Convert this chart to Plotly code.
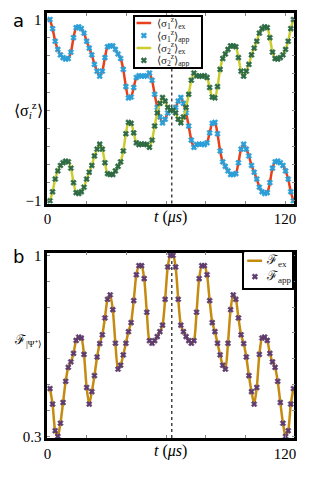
import plotly.graph_objects as go

# sample times (µs) of the plotted points
t = [1.3, 2.62, 3.94, 5.27, 6.59, 7.91, 9.23, 10.55, 11.88, 13.2,
     14.52, 15.84, 17.16, 18.49, 19.81, 21.13, 22.45, 23.77, 25.1, 26.42,
     27.74, 29.06, 30.38, 31.71, 33.03, 34.35, 35.67, 36.99, 38.32, 39.64,
     40.96, 42.28, 43.6, 44.93, 46.25, 47.57, 48.89, 50.21, 51.54, 52.86,
     54.18, 55.5, 56.82, 58.15, 59.47, 60.79, 62.11, 63.43, 64.76, 66.08,
     67.4, 68.72, 70.04, 71.37, 72.69, 74.01, 75.33, 76.65, 77.98, 79.3,
     80.62, 81.94, 83.26, 84.59, 85.91, 87.23, 88.55, 89.87, 91.2, 92.52,
     93.84, 95.16, 96.48, 97.81, 99.13, 100.45, 101.77, 103.09, 104.42, 105.74,
     107.06, 108.38, 109.7, 111.03, 112.35, 113.67, 114.99, 116.31, 117.64, 118.96,
     120.28, 121.6, 122.92, 124.25]

sigma1 = [1.0, 0.90, 0.76, 0.67, 0.61, 0.58, 0.563, 0.57, 0.64, 0.80,
          0.91, 0.92, 0.90, 0.85, 0.76, 0.685, 0.61, 0.505, 0.43, 0.375,
          0.43, 0.58, 0.70, 0.71, 0.71, 0.67, 0.62, 0.57, 0.45, 0.26,
          0.135, 0.145, 0.25, 0.36, 0.38, 0.375, 0.375, 0.38, 0.41, 0.33,
          0.175, 0.03, -0.075, -0.14, -0.10, -0.03, 0.0,
          0.0, 0.03, 0.10, 0.14, 0.075, -0.03, -0.175, -0.33, -0.41, -0.38,
          -0.375, -0.375, -0.38, -0.36, -0.25, -0.145, -0.135, -0.26, -0.45, -0.57,
          -0.62, -0.67, -0.71, -0.71, -0.70, -0.58, -0.43, -0.375, -0.43, -0.505,
          -0.61, -0.685, -0.76, -0.85, -0.90, -0.92, -0.91, -0.80, -0.64, -0.57,
          -0.563, -0.58, -0.61, -0.67, -0.76, -0.90, -1.0]

sigma2 = [-1.0, -0.90, -0.76, -0.67, -0.61, -0.58, -0.563, -0.57, -0.64, -0.80,
          -0.91, -0.92, -0.90, -0.85, -0.76, -0.685, -0.61, -0.505, -0.43, -0.375,
          -0.43, -0.58, -0.70, -0.71, -0.71, -0.67, -0.62, -0.57, -0.45, -0.26,
          -0.135, -0.145, -0.25, -0.36, -0.38, -0.375, -0.375, -0.38, -0.41, -0.33,
          -0.175, -0.03, 0.075, 0.14, 0.10, 0.03, 0.0,
          0.0, -0.03, -0.10, -0.14, -0.075, 0.03, 0.175, 0.33, 0.41, 0.38,
          0.375, 0.375, 0.38, 0.36, 0.25, 0.145, 0.135, 0.26, 0.45, 0.57,
          0.62, 0.67, 0.71, 0.71, 0.70, 0.58, 0.43, 0.375, 0.43, 0.505,
          0.61, 0.685, 0.76, 0.85, 0.90, 0.92, 0.91, 0.80, 0.64, 0.57,
          0.563, 0.58, 0.61, 0.67, 0.76, 0.90, 1.0]

fidelity = [0.485, 0.425, 0.322, 0.30, 0.351, 0.431, 0.513, 0.567, 0.588, 0.621,
            0.671, 0.684, 0.68, 0.617, 0.489, 0.425, 0.473, 0.535, 0.607, 0.659,
            0.693, 0.758, 0.83, 0.847, 0.79, 0.66, 0.56, 0.575, 0.615, 0.66,
            0.705, 0.74, 0.825, 0.925, 0.96, 0.96, 0.91, 0.78, 0.67, 0.66,
            0.67, 0.686, 0.705, 0.73, 0.83, 0.955, 1.0,
            1.0, 0.955, 0.83, 0.73, 0.705, 0.686, 0.67, 0.66, 0.67, 0.78,
            0.91, 0.96, 0.96, 0.925, 0.825, 0.74, 0.705, 0.66, 0.615, 0.575,
            0.56, 0.66, 0.79, 0.847, 0.83, 0.758, 0.693, 0.659, 0.607, 0.535,
            0.473, 0.425, 0.489, 0.617, 0.68, 0.684, 0.671, 0.621, 0.588, 0.567,
            0.513, 0.431, 0.351, 0.30, 0.322, 0.425, 0.485]

t_mark = 62.8          # dashed vertical marker (µs)
x_ticks = [0, 120]
x_ticktext = ["0", "120"]
ya_ticks = [-1, 1]
ya_ticktext = ["\u22121", "1"]
yb_ticks = [0.3, 1.0]
yb_ticktext = ["0.3", "1"]

# legend entries
leg_a_names = ["\u27e8\u03c3<sub>1</sub><sup>z</sup>\u27e9<sub>ex</sub>",
               "\u27e8\u03c3<sub>1</sub><sup>z</sup>\u27e9<sub>app</sub>",
               "\u27e8\u03c3<sub>2</sub><sup>z</sup>\u27e9<sub>ex</sub>",
               "\u27e8\u03c3<sub>2</sub><sup>z</sup>\u27e9<sub>app</sub>"]
leg_b_names = ["\u2131<sub>ex</sub>", "\u2131<sub>app</sub>"]

RED, BLUE, YEL, GRN = "#e8401c", "#2a9fd8", "#cccc2e", "#2e6b45"
GOLD, PURP = "#c58a10", "#5e3c6e"

# the page body has an 8px margin: the figure is sized to fill the rest
W, H = 304, 471
OFF = 8
SERIF = "Liberation Serif"


def px_x(p):
    return (p - OFF) / W


def px_y(p):
    return 1 - (p - OFF) / H


MK = dict(symbol="x", size=5)

fig = go.Figure()
# panel a
fig.add_trace(go.Scatter(x=t, y=sigma1, mode="lines", line=dict(color=RED, width=2.5, shape="spline", smoothing=0.7),
                         name=leg_a_names[0], xaxis="x", yaxis="y"))
fig.add_trace(go.Scatter(x=t, y=sigma1, mode="markers",
                         marker=dict(color=BLUE, line=dict(color=BLUE, width=0.6), **MK),
                         name=leg_a_names[1], xaxis="x", yaxis="y"))
fig.add_trace(go.Scatter(x=t, y=sigma2, mode="lines", line=dict(color=YEL, width=2.5, shape="spline", smoothing=0.7),
                         name=leg_a_names[2], xaxis="x", yaxis="y"))
fig.add_trace(go.Scatter(x=t, y=sigma2, mode="markers",
                         marker=dict(color=GRN, line=dict(color=GRN, width=0.6), **MK),
                         name=leg_a_names[3], xaxis="x", yaxis="y"))
# panel b
fig.add_trace(go.Scatter(x=t, y=fidelity, mode="lines", line=dict(color=GOLD, width=2.5, shape="spline", smoothing=0.7),
                         name=leg_b_names[0], xaxis="x2", yaxis="y2"))
fig.add_trace(go.Scatter(x=t, y=fidelity, mode="markers",
                         marker=dict(color=PURP, line=dict(color=PURP, width=0.6), **MK),
                         name=leg_b_names[1], xaxis="x2", yaxis="y2"))

# legend keys (drawn in small inset boxes so the boxes stay as compact as the original)
leg_a_rows = [3.5, 2.5, 1.5, 0.5]
fig.add_trace(go.Scatter(x=[0.03, 0.25], y=[leg_a_rows[0]] * 2, mode="lines", line=dict(color=RED, width=2.5),
                         xaxis="x3", yaxis="y3", hoverinfo="skip"))
fig.add_trace(go.Scatter(x=[0.14], y=[leg_a_rows[1]], mode="markers",
                         marker=dict(color=BLUE, line=dict(color=BLUE, width=0.6), **MK),
                         xaxis="x3", yaxis="y3", hoverinfo="skip"))
fig.add_trace(go.Scatter(x=[0.03, 0.25], y=[leg_a_rows[2]] * 2, mode="lines", line=dict(color=YEL, width=2.5),
                         xaxis="x3", yaxis="y3", hoverinfo="skip"))
fig.add_trace(go.Scatter(x=[0.14], y=[leg_a_rows[3]], mode="markers",
                         marker=dict(color=GRN, line=dict(color=GRN, width=0.6), **MK),
                         xaxis="x3", yaxis="y3", hoverinfo="skip"))
leg_b_rows = [1.5, 0.62]
fig.add_trace(go.Scatter(x=[0.06, 0.37], y=[leg_b_rows[0]] * 2, mode="lines", line=dict(color=GOLD, width=2.5),
                         xaxis="x4", yaxis="y4", hoverinfo="skip"))
fig.add_trace(go.Scatter(x=[0.22], y=[leg_b_rows[1]], mode="markers",
                         marker=dict(color=PURP, line=dict(color=PURP, width=0.6), **MK),
                         xaxis="x4", yaxis="y4", hoverinfo="skip"))

xdom = [px_x(44), px_x(296)]
xrange_ = [-0.05, 124.7]
axis_common = dict(showline=True, mirror="ticks", linecolor="black", linewidth=2.5,
                   ticks="inside", ticklen=3, tickcolor="#888", tickwidth=1,
                   showgrid=False, zeroline=False,
                   tickfont=dict(family=SERIF, size=15, color="black"))
xminor = dict(tickmode="array", tickvals=[20, 40, 60, 80, 100], ticks="inside", ticklen=3,
              tickcolor="#888", tickwidth=1, showgrid=False)
leg_axis = dict(showline=True, mirror=True, linecolor="black", linewidth=1.5, ticks="",
                showticklabels=False, showgrid=False, zeroline=False, fixedrange=True)

fig.update_layout(
    width=W, height=H,
    margin=dict(l=0, r=0, t=0, b=0),
    paper_bgcolor="white", plot_bgcolor="white",
    showlegend=False,
    xaxis=dict(domain=xdom, range=xrange_, anchor="y", tickvals=x_ticks, ticktext=x_ticktext,
               minor=xminor, **axis_common),
    yaxis=dict(domain=[px_y(203.5), px_y(8)], range=[-1.03, 1.072], anchor="x",
               tickvals=ya_ticks, ticktext=ya_ticktext,
               minor=dict(dtick=0.2, tick0=0, ticks="inside", ticklen=3, tickcolor="#888", tickwidth=1),
               **axis_common),
    xaxis2=dict(domain=xdom, range=xrange_, anchor="y2", tickvals=x_ticks, ticktext=x_ticktext,
                minor=xminor, **axis_common),
    yaxis2=dict(domain=[px_y(444), px_y(254)], range=[0.2943, 1.010], anchor="x2",
                tickvals=yb_ticks, ticktext=yb_ticktext,
                minor=dict(dtick=0.1, tick0=0, ticks="inside", ticklen=3, tickcolor="#888", tickwidth=1),
                **axis_common),
    xaxis3=dict(domain=[px_x(133), px_x(201)], range=[0, 1], anchor="y3", **leg_axis),
    yaxis3=dict(domain=[px_y(63), px_y(12)], range=[0, 4], anchor="x3", **leg_axis),
    xaxis4=dict(domain=[px_x(245), px_x(294)], range=[0, 1], anchor="y4", **leg_axis),
    yaxis4=dict(domain=[px_y(290), px_y(253)], range=[0, 2], anchor="x4", **leg_axis),
)

for xr, yr in (("x", "y"), ("x2", "y2")):
    fig.add_shape(type="line", xref=xr, yref=yr + " domain", x0=t_mark, x1=t_mark, y0=0, y1=1,
                  layer="below", line=dict(color="#444", width=1.5, dash="dot"))

for name, row in zip(leg_a_names, leg_a_rows):
    fig.add_annotation(xref="x3", yref="y3", x=0.3, y=row, text=name, showarrow=False,
                       xanchor="left", yanchor="middle",
                       font=dict(family=SERIF, size=11, color="#222"))
for name, row in zip(leg_b_names, leg_b_rows):
    fig.add_annotation(xref="x4", yref="y4", x=0.4, y=row, text=name, showarrow=False,
                       xanchor="left", yanchor="middle",
                       font=dict(family=SERIF, size=13, color="#222"))

ann = [
    dict(text="a", x=px_x(15), y=px_y(16), xanchor="center", font=dict(family="DejaVu Sans", size=18)),
    dict(text="b", x=px_x(15), y=px_y(258), xanchor="center", font=dict(family="DejaVu Sans", size=18)),
    dict(text="\u27e8\u03c3<sub><i>i</i></sub><sup>z</sup>\u27e9", x=px_x(8), y=px_y(108), xanchor="left",
         font=dict(family=SERIF, size=16)),
    dict(text="\u2131<sub>|\u03a8\u207a\u27e9</sub>", x=px_x(8), y=px_y(344), xanchor="left",
         font=dict(family=SERIF, size=13)),
    dict(text="<i>t</i> (<i>\u03bcs</i>)", x=px_x(170), y=px_y(217), xanchor="center",
         font=dict(family=SERIF, size=16)),
    dict(text="<i>t</i> (<i>\u03bcs</i>)", x=px_x(170), y=px_y(457), xanchor="center",
         font=dict(family=SERIF, size=16)),
]
for a in ann:
    a["font"]["color"] = "black"
    fig.add_annotation(xref="paper", yref="paper", showarrow=False, yanchor="middle", **a)

fig.write_html("out.html")
